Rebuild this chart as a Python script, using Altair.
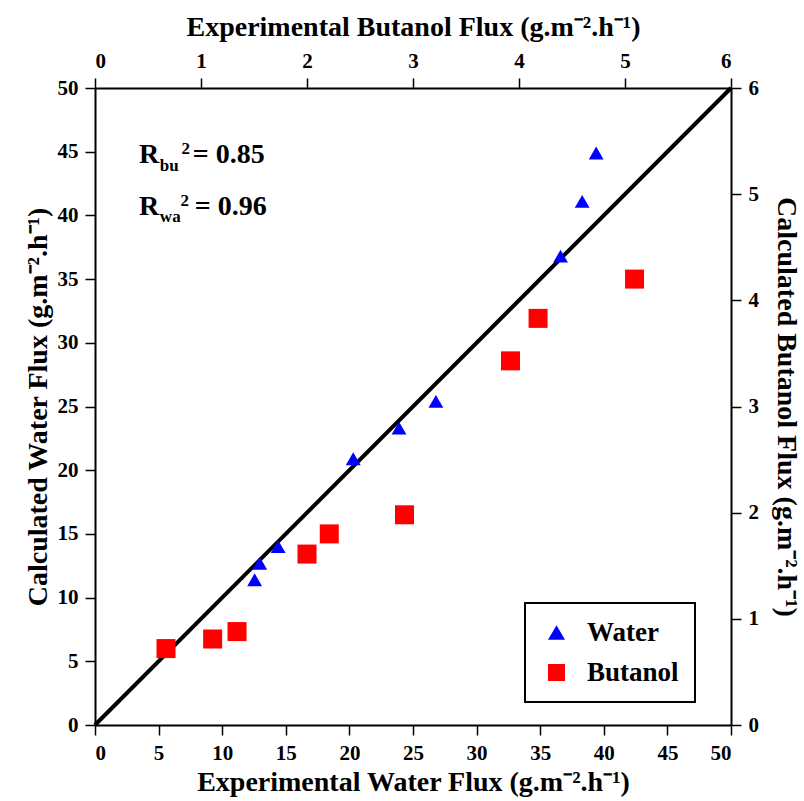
import altair as alt
import pandas as pd

# ---- data ----
water_exp = [12.55, 12.95, 14.4, 20.3, 23.9, 26.8, 36.6, 38.3, 39.4]
water_calc = [11.4, 12.7, 14.0, 20.9, 23.3, 25.4, 36.8, 41.1, 44.9]

butanol_exp = [0.67, 1.11, 1.34, 2.00, 2.21, 2.92, 3.92, 4.18, 5.09]
butanol_calc = [0.72, 0.81, 0.88, 1.61, 1.80, 1.98, 3.43, 3.83, 4.20]

diag_x = [0, 50]
diag_y = [0, 50]

water_ticks = [0, 5, 10, 15, 20, 25, 30, 35, 40, 45, 50]
butanol_ticks = [0, 1, 2, 3, 4, 5, 6]

series_names = ["Water", "Butanol"]
series_colors = ["#0000ff", "#ff0000"]
series_shapes = ["triangle-up", "square"]

# annotation pieces (data coordinates of water axes)
ann_big_text = ["R", "= 0.85", "R", "= 0.96"]
ann_big_x = [3.45, 7.69, 3.45, 7.85]
ann_big_y = [44.09, 44.09, 40.03, 40.03]
ann_small_text = ["bu", "2", "wa", "2"]
ann_small_x = [5.10, 6.81, 5.10, 6.73]
ann_small_y = [43.51, 44.83, 39.51, 40.74]

FONT = "Liberation Serif"

water_df = pd.DataFrame({"x": water_exp, "y": water_calc, "series": "Water"})
but_df = pd.DataFrame({"x": butanol_exp, "y": butanol_calc, "series": "Butanol"})
diag_df = pd.DataFrame({"x": diag_x, "y": diag_y})
big_df = pd.DataFrame({"x": ann_big_x, "y": ann_big_y, "t": ann_big_text})
small_df = pd.DataFrame({"x": ann_small_x, "y": ann_small_y, "t": ann_small_text})

axis_common = dict(
    grid=False, domainColor="black", domainWidth=2, tickColor="black",
    tickWidth=1.5, tickSize=10, labelFont=FONT, labelFontWeight="bold",
    labelFontSize=21, labelColor="black", titleFont=FONT,
    titleFontWeight="bold", titleFontSize=28, titleColor="black",
    labelPadding=7,
)

xw = alt.X("x:Q", scale=alt.Scale(domain=[0, 50], nice=False, zero=False),
           axis=alt.Axis(orient="bottom", values=water_ticks, titlePadding=5,
                         title="Experimental Water Flux (g.m\u207b\u00b2.h\u207b\u00b9)",
                         **axis_common))
yw = alt.Y("y:Q", scale=alt.Scale(domain=[0, 50], nice=False, zero=False),
           axis=alt.Axis(orient="left", values=water_ticks, titlePadding=5,
                         title="Calculated Water Flux (g.m\u207b\u00b2.h\u207b\u00b9)",
                         **axis_common))
xb = alt.X("x:Q", scale=alt.Scale(domain=[0, 6], nice=False, zero=False),
           axis=alt.Axis(orient="top", values=butanol_ticks, titlePadding=9,
                         title="Experimental Butanol Flux (g.m\u207b\u00b2.h\u207b\u00b9)",
                         **axis_common))
yb = alt.Y("y:Q", scale=alt.Scale(domain=[0, 6], nice=False, zero=False),
           axis=alt.Axis(orient="right", values=butanol_ticks, titlePadding=13,
                         title="Calculated Butanol Flux (g.m\u207b\u00b2.h\u207b\u00b9)",
                         **axis_common))

legend = alt.Legend(
    title=None, orient="none", legendX=430, legendY=515,
    strokeColor="black", padding=16, symbolOffset=2, labelOffset=17,
    rowPadding=12, labelFontSize=27, labelFont=FONT, labelFontWeight="bold",
    labelColor="black", symbolSize=290, symbolStrokeWidth=0, symbolOpacity=1,
)
color_enc = alt.Color("series:N", scale=alt.Scale(domain=series_names, range=series_colors), legend=legend)
shape_enc = alt.Shape("series:N", scale=alt.Scale(domain=series_names, range=series_shapes), legend=legend)

diag = alt.Chart(diag_df).mark_line(color="black", strokeWidth=4).encode(x=xw, y=yw)
water_pts = alt.Chart(water_df).mark_point(filled=True, size=220, opacity=1).encode(
    x=xw, y=yw, color=color_enc, shape=shape_enc)
big_txt = alt.Chart(big_df).mark_text(
    font=FONT, fontWeight="bold", fontSize=28, align="left", baseline="alphabetic", color="black"
).encode(x=xw, y=yw, text="t:N")
small_txt = alt.Chart(small_df).mark_text(
    font=FONT, fontWeight="bold", fontSize=17, align="left", baseline="alphabetic", color="black"
).encode(x=xw, y=yw, text="t:N")

water_layer = alt.layer(diag, water_pts, big_txt, small_txt)

but_pts = alt.Chart(but_df).mark_point(filled=True, size=361, opacity=1).encode(
    x=xb, y=yb, color=color_enc, shape=shape_enc)

chart = alt.layer(water_layer, but_pts).resolve_scale(
    x="independent", y="independent"
).properties(
    width=636, height=637,
    autosize=alt.AutoSizeParams(type="none"),
    padding={"left": 95, "top": 88, "right": 73, "bottom": 76},
    background="white",
).configure_view(strokeWidth=0).configure_legend(strokeWidth=2)

chart.save("out.html", embed_options={"renderer": "svg", "actions": False})
